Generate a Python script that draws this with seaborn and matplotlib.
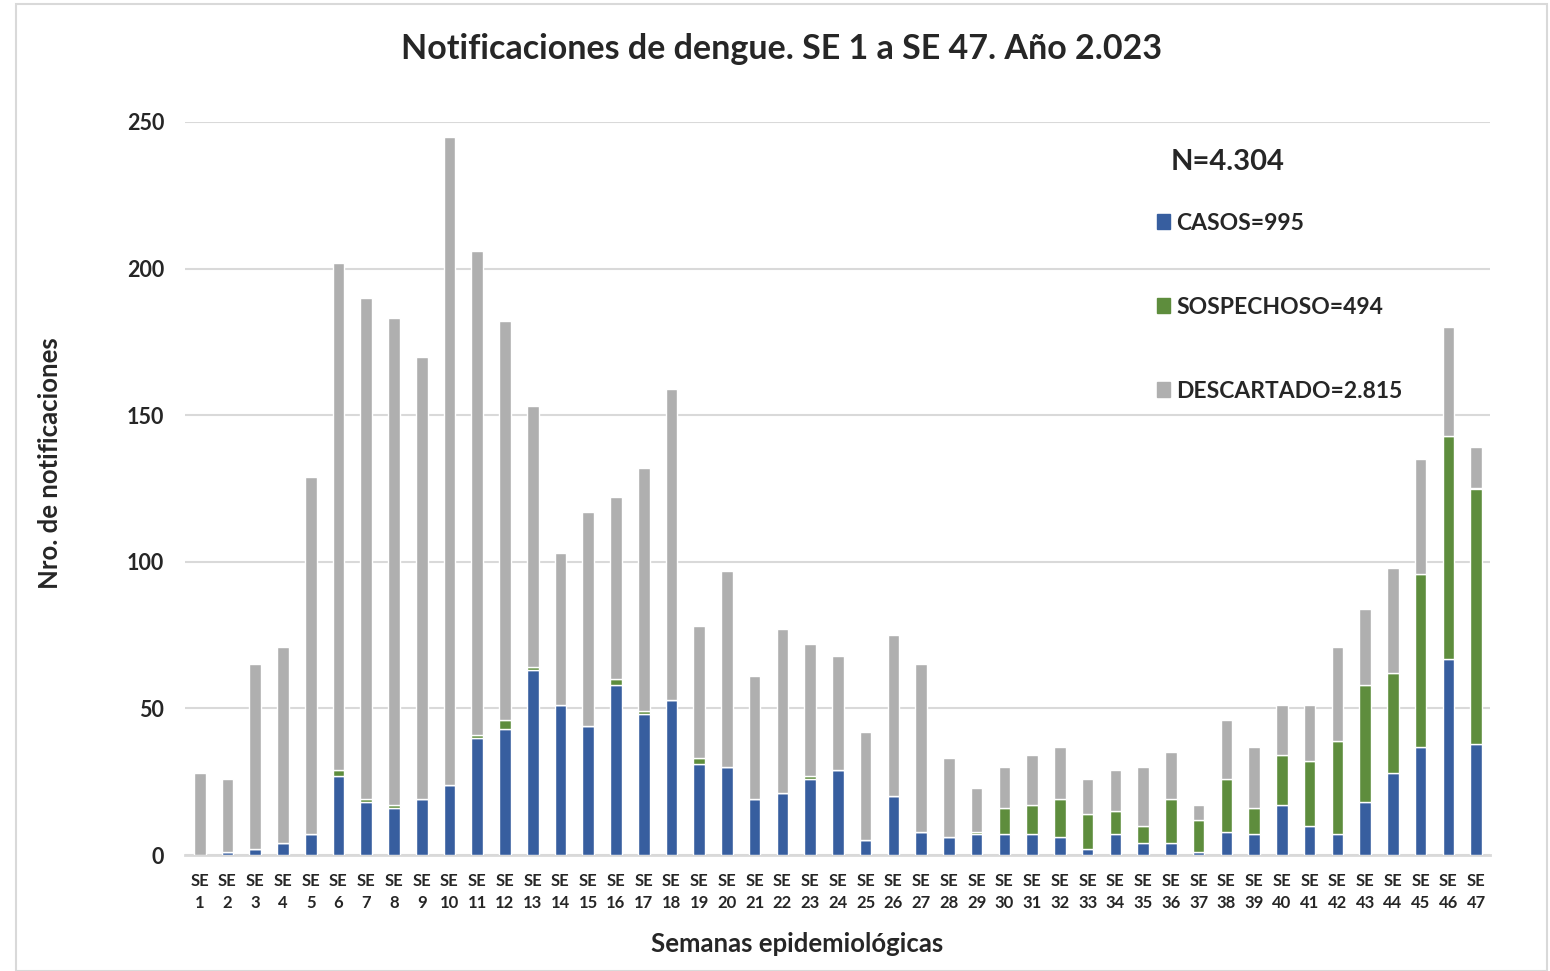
import numpy as np
import pandas as pd
import matplotlib
matplotlib.use("Agg")
import matplotlib.pyplot as plt
from matplotlib.patches import Patch, Rectangle
import seaborn as sns

# weekly notifications, SE 1 .. SE 47
semanas = [f"SE\n{i}" for i in range(1, 48)]
casos = [0, 1, 2, 4, 7, 27, 18, 16, 19, 24,
         40, 43, 63, 51, 44, 58, 48, 53, 31, 30,
         19, 21, 26, 29, 5, 20, 8, 6, 7, 7,
         7, 6, 2, 7, 4, 4, 1, 8, 7, 17,
         10, 7, 18, 28, 37, 67, 38]
sospechoso = [0, 0, 0, 0, 0, 2, 1, 1, 0, 0,
              1, 3, 1, 0, 0, 2, 1, 0, 2, 0,
              0, 0, 1, 0, 0, 0, 0, 0, 1, 9,
              10, 13, 12, 8, 6, 15, 11, 18, 9, 17,
              22, 32, 40, 34, 59, 76, 87]
descartado = [28, 25, 63, 67, 122, 173, 171, 166, 151, 221,
              165, 136, 89, 52, 73, 62, 83, 106, 45, 67,
              42, 56, 45, 39, 37, 55, 57, 27, 15, 14,
              17, 18, 12, 14, 20, 16, 5, 20, 21, 17,
              19, 32, 26, 36, 39, 37, 14]

df = pd.DataFrame({"semana": semanas, "casos": casos,
                   "sospechoso": sospechoso, "descartado": descartado})

c_casos = "#375E9F"
c_sosp = "#5E8D3D"
c_desc = "#AFAFAF"

sns.set_style("white")
plt.rcParams["font.family"] = ["Lato", "DejaVu Sans"]

fig = plt.figure(figsize=(15.5, 9.71), dpi=100)
ax = fig.add_axes([185 / 1550, 1 - 855 / 971, (1490 - 185) / 1550, (855 - 122) / 971])

w = 0.42
base2 = np.array(casos)
base3 = base2 + np.array(sospechoso)
sns.barplot(data=df, x="semana", y="casos", order=semanas, color=c_casos,
            width=w, saturation=1, ax=ax, zorder=3)
sns.barplot(data=df, x="semana", y="sospechoso", order=semanas, color=c_sosp,
            width=w, saturation=1, bottom=base2, ax=ax, zorder=3)
sns.barplot(data=df, x="semana", y="descartado", order=semanas, color=c_desc,
            width=w, saturation=1, bottom=base3, ax=ax, zorder=3)

ax.set_ylim(0, 250)
ax.set_xlim(-0.53, 46.5)
ax.set_yticks([0, 50, 100, 150, 200, 250])
ax.yaxis.grid(True, color="#D9D9D9", linewidth=1.5, zorder=0)
ax.set_axisbelow(True)
for s in ["top", "right", "left"]:
    ax.spines[s].set_visible(False)
ax.spines["bottom"].set_color("#D9D9D9")
ax.spines["bottom"].set_linewidth(2)
ax.tick_params(axis="both", length=0)
ax.tick_params(axis="y", pad=15, labelsize=15.5)
ax.tick_params(axis="x", pad=13, labelsize=12)
for lbl in ax.get_xticklabels():
    lbl.set_fontweight("bold")
    lbl.set_linespacing(1.45)
for lbl in ax.get_yticklabels():
    lbl.set_fontweight("bold")

ax.set_xlabel("")
ax.set_ylabel("")
fig.text(797 / 1550, 1 - 944 / 971, "Semanas epidemiológicas", ha="center", va="center",
         fontsize=18.5, fontweight="bold")
fig.text(50 / 1550, 1 - 463 / 971, "Nro. de notificaciones", ha="center", va="center",
         rotation=90, fontsize=18.5, fontweight="bold")
fig.text(782 / 1550, 1 - 49 / 971, "Notificaciones de dengue. SE 1 a SE 47. Año 2.023",
         ha="center", va="center", fontsize=24.5, fontweight="bold")

fig.text(1228 / 1550, 1 - 162 / 971, "N=4.304", ha="center", va="center",
         fontsize=21, fontweight="bold")
handles = [Patch(color=c_casos), Patch(color=c_sosp), Patch(color=c_desc)]
labels = [f"CASOS={sum(casos)}", f"SOSPECHOSO={sum(sospechoso)}",
          f"DESCARTADO={sum(descartado) // 1000}.{sum(descartado) % 1000:03d}"]
leg = fig.legend(handles, labels, loc="upper left",
                 bbox_to_anchor=(1136 / 1550, 1 - 192 / 971), frameon=False,
                 handlelength=0.6, handleheight=0.6, handletextpad=0.25,
                 labelspacing=2.75, prop={"weight": "bold", "size": 16.5})

fig.patches.append(Rectangle((16 / 1550, 0), (1547 - 16) / 1550, 1 - 4 / 971,
                             transform=fig.transFigure, fill=False,
                             edgecolor="#D9D9D9", linewidth=1.5))

fig.savefig("out.png", dpi=100)
